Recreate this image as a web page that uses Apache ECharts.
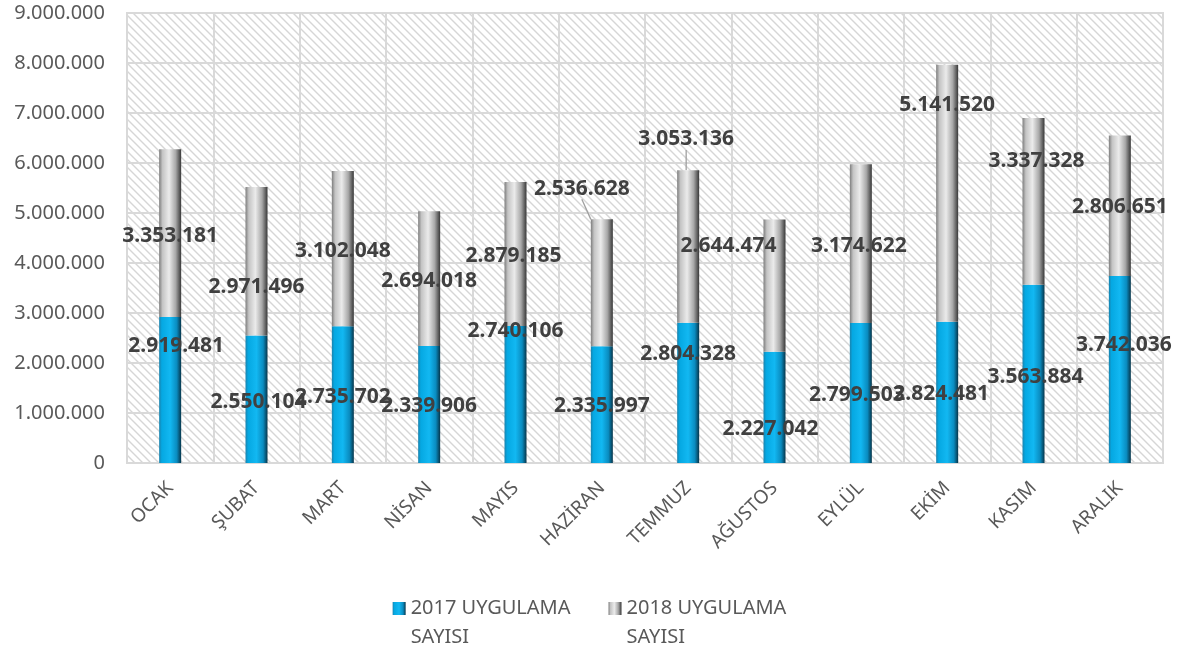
<!DOCTYPE html>
<html>
<head>
<meta charset="utf-8">
<script src="https://cdn.jsdelivr.net/npm/echarts@6/dist/echarts.min.js"></script>
<style>
html,body{margin:0;padding:0;background:#fff;}
#chart{width:1179px;height:652px;}
</style>
</head>
<body>
<div id="chart"></div>
<script>
// ---- data ----
var months = ['OCAK','ŞUBAT','MART','NİSAN','MAYIS','HAZİRAN','TEMMUZ','AĞUSTOS','EYLÜL','EKİM','KASIM','ARALIK'];
var values2017 = [2919481,2550104,2735702,2339906,2740106,2335997,2804328,2227042,2799503,2824481,3563884,3742036];
var values2018 = [3353181,2971496,3102048,2694018,2879185,2536628,3053136,2644474,3174622,5141520,3337328,2806651];
var seriesNames = ['2017 UYGULAMA SAYISI','2018 UYGULAMA SAYISI'];
var yTicks = {min:0, max:9000000, interval:1000000};

// ---- label nudges (layout only, pixels) ----
var nudge2017 = [[6,-44],[2,3],[0,2],[0,2],[0,-63],[0,1],[0,-39],[-4,22],[-4,2],[-6,2],[2,3],[4,-24]];
var nudge2018 = [[0,3],[0,26],[0,2],[0,2],[-2,2],[-20,-94],[-2,-107],[-46,-40],[-2,2],[0,-88],[3,-40],[0,1]];
var leaderLines2018 = [5,6];

function fmt(v){ return String(v).replace(/\B(?=(\d{3})+(?!\d))/g,'.'); }

// hatch pattern
var S = 8;
var pc = document.createElement('canvas');
pc.width = S; pc.height = S;
var ctx = pc.getContext('2d');
ctx.fillStyle = '#ffffff'; ctx.fillRect(0,0,S,S);
ctx.strokeStyle = '#d6d6d6'; ctx.lineWidth = 1.4;
ctx.beginPath();
ctx.moveTo(-1,-1); ctx.lineTo(S+1,S+1);
ctx.moveTo(-1,S-1); ctx.lineTo(1,S+1);
ctx.moveTo(S-1,-1); ctx.lineTo(S+1,1);
ctx.stroke();

var blueGrad = new echarts.graphic.LinearGradient(0,0,1,0,[
  {offset:0,color:'#1a82ad'},{offset:0.12,color:'#05a8e2'},{offset:0.5,color:'#12b8f2'},
  {offset:0.8,color:'#0a8cc0'},{offset:1,color:'#06354a'}]);
var grayGrad = new echarts.graphic.LinearGradient(0,0,1,0,[
  {offset:0,color:'#7d7d7d'},{offset:0.15,color:'#c4c4c4'},{offset:0.45,color:'#ebebeb'},
  {offset:0.75,color:'#a8a8a8'},{offset:1,color:'#383838'}]);

var labelStyle = {show:true, position:'inside', fontFamily:'Noto Sans', fontWeight:'bold', fontSize:21, color:'#404040',
  formatter:function(p){return fmt(p.value);}};

function makeData(vals, lines){
  return vals.map(function(v,i){
    var d = {value:v};
    if (lines && lines.indexOf(i) >= 0) d.labelLine = {show:true};
    return d;
  });
}

// legend icon: 13px square aligned with first text line of a 2-line label
var legendIcon = 'path://M0,0h0.01v0.01h-0.01z M0,8h13v13h-13z M0,57.99h0.01v0.01h-0.01z';

var chart = echarts.init(document.getElementById('chart'));
chart.setOption({
  animation:false,
  backgroundColor:'#ffffff',
  textStyle:{fontFamily:'Noto Sans'},
  grid:{left:127, right:16, top:13, bottom:189, show:true, borderColor:'#d9d9d9', borderWidth:2,
        backgroundColor:{image:pc, repeat:'repeat'}},
  legend:{
    top:589, left:'center', itemGap:38, itemWidth:13, itemHeight:58, icon:legendIcon,
    textStyle:{fontFamily:'Noto Sans', fontSize:20, color:'#595959', lineHeight:29, padding:[0,0,0,0]},
    formatter:function(n){ return n.replace(/ (SAYISI)$/, '\n$1'); }
  },
  xAxis:{
    type:'category', data:months,
    axisLine:{show:true, lineStyle:{color:'#d9d9d9', width:2}},
    axisTick:{show:false},
    splitLine:{show:true, lineStyle:{color:'#d9d9d9', width:2}},
    axisLabel:{rotate:45, margin:22, fontFamily:'Noto Sans', fontSize:19, color:'#595959', interval:0}
  },
  yAxis:{
    type:'value', min:yTicks.min, max:yTicks.max, interval:yTicks.interval,
    axisLine:{show:false}, axisTick:{show:false},
    splitLine:{show:true, lineStyle:{color:'#d9d9d9', width:2}},
    axisLabel:{margin:22, fontFamily:'Noto Sans', fontSize:20, color:'#595959', formatter:fmt}
  },
  series:[
    {name:seriesNames[0], type:'bar', stack:'t', barWidth:22, data:makeData(values2017),
     itemStyle:{color:blueGrad}, label:labelStyle, labelLine:{show:false},
     labelLayout:function(p){ var n = nudge2017[p.dataIndex]; return {dx:n[0], dy:n[1]}; }},
    {name:seriesNames[1], type:'bar', stack:'t', barWidth:22, data:makeData(values2018, leaderLines2018),
     itemStyle:{color:grayGrad}, label:labelStyle,
     labelLine:{show:false, lineStyle:{color:'#a0a0a0', width:1.3}},
     labelLayout:function(p){ var n = nudge2018[p.dataIndex]; return {dx:n[0], dy:n[1]}; }}
  ]
});
</script>
</body>
</html>
